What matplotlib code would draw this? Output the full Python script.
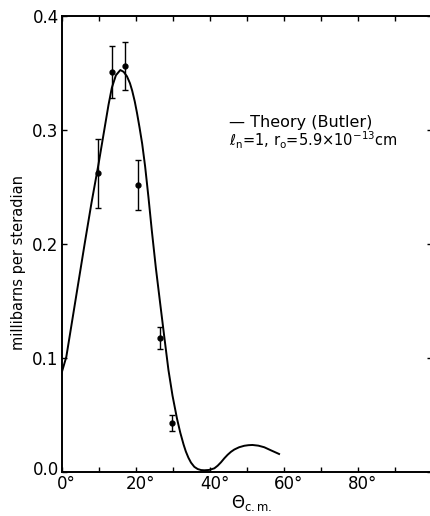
import matplotlib.pyplot as plt
import matplotlib.transforms as mtransforms

# measured cross sections with errors (angle in degrees c.m.)
theta_exp = [9.8, 13.6, 17.1, 20.6, 26.6, 29.9]
sigma_exp = [0.262, 0.351, 0.356, 0.252, 0.1175, 0.043]
sigma_err = [0.030, 0.023, 0.021, 0.022, 0.010, 0.007]

# Butler theory curve, l_n = 1
theta_th = [0, 1.3, 2.7, 4.5, 6.3, 8.1, 10.0, 11.3, 12.7, 13.6, 14.7, 15.9,
            16.8, 17.7, 18.5, 19.1, 19.8, 20.4, 21.1, 21.8, 22.6, 23.5, 24.4,
            25.5, 26.7, 27.8, 28.9, 30.0, 31.2, 32.1, 33.0, 33.6, 34.3, 35.0,
            35.9, 36.8, 37.7, 38.6, 39.9, 41.3, 42.2, 43.1, 44.0, 44.9, 45.8,
            46.7, 48.0, 49.4, 50.5, 51.6, 53.2, 54.8, 56.6, 58.8]
sigma_th = [0.0865, 0.101, 0.129, 0.165, 0.201, 0.236, 0.270, 0.295, 0.322,
            0.337, 0.348, 0.3526, 0.351, 0.347, 0.341, 0.3345, 0.325, 0.315,
            0.302, 0.288, 0.268, 0.241, 0.212, 0.179, 0.147, 0.118, 0.0895,
            0.067, 0.047, 0.0345, 0.024, 0.018, 0.0125, 0.0082, 0.0045, 0.0026,
            0.0017, 0.0015, 0.0018, 0.0032, 0.0055, 0.0085, 0.012, 0.0151,
            0.0177, 0.0197, 0.0217, 0.023, 0.0235, 0.0237, 0.0231, 0.0217,
            0.019, 0.0158]

x_ticks = [0, 20, 40, 60, 80]
x_labels = ['0°', '20°', '40°', '60°', '80°']
y_ticks = [0.0, 0.1, 0.2, 0.3, 0.4]
y_labels = ['0.0', '0.1', '0.2', '0.3', '0.4']

fig = plt.figure(figsize=(4.31, 5.16), dpi=100)
ax = fig.add_axes([0.1427, 0.0853, 0.8585, 0.8837])

ax.plot(theta_th, sigma_th, color='black', linewidth=1.4)
ax.errorbar(theta_exp, sigma_exp, yerr=sigma_err, fmt='o', color='black',
            markersize=3.5, elinewidth=1.0, capsize=2.5, capthick=1.0)

ax.set_xlim(0, 100)
ax.set_ylim(0, 0.4)
ax.set_xticks(range(0, 101, 10))
ax.set_xticklabels([])
ax.set_yticks(y_ticks)
ax.set_yticklabels(y_labels)
ax.tick_params(axis='both', which='both', direction='in', top=True, right=True,
               length=3.5, width=1.0, labelsize=12, pad=2)
for s in ax.spines.values():
    s.set_linewidth(1.4)

# x labels drawn by hand so the digits, not the degree sign, sit under the tick
xtrans = mtransforms.blended_transform_factory(ax.transData, ax.transAxes)
xtrans = xtrans + mtransforms.ScaledTranslation(5 / 100, -3 / 100, fig.dpi_scale_trans)
for xv, lab in zip(x_ticks, x_labels):
    ax.text(xv, 0, lab, transform=xtrans, ha='center', va='top', fontsize=12)

# lift the 0.0 label clear of the 0° label
dy = mtransforms.ScaledTranslation(0, 4 / 100, fig.dpi_scale_trans)
lab0 = ax.get_yticklabels()[0]
lab0.set_transform(lab0.get_transform() + dy)

ax.set_ylabel('millibarns per steradian', fontsize=10.5)
ax.yaxis.set_label_coords(-0.096, 0.46)
ax.text(0.515, -0.078, r'$\Theta_{\rm c.m.}$', transform=ax.transAxes,
        ha='center', va='baseline', fontsize=12)

ax.text(0.453, 0.757, '— Theory (Butler)', transform=ax.transAxes,
        ha='left', va='baseline', fontsize=11.5)
ax.text(0.453, 0.714, r'$\ell_{\rm n}$=1, r$_{\rm o}$=5.9$\times$10$^{-13}$cm',
        transform=ax.transAxes, ha='left', va='baseline', fontsize=10.5)

fig.savefig('out.png', dpi=100)
